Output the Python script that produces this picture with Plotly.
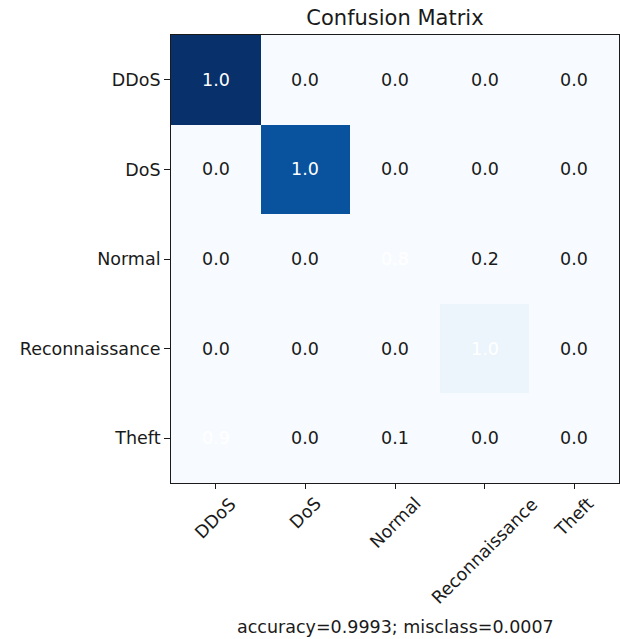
import numpy as np
import plotly.graph_objects as go

# Class labels shared by both axes
classes = ["DDoS", "DoS", "Normal", "Reconnaissance", "Theft"]

# Raw prediction counts per true class (rows) and predicted class (columns)
row_ddos = [49968, 30, 0, 0, 2]
row_dos = [20, 43480, 0, 0, 0]
row_normal = [0, 0, 8, 2, 0]
row_recon = [0, 0, 0, 2500, 3]
row_theft = [9, 0, 1, 0, 0]

cm = np.array([row_ddos, row_dos, row_normal, row_recon, row_theft], dtype=float)
cm_norm = cm / cm.sum(axis=1, keepdims=True)

accuracy = np.trace(cm) / cm.sum()
misclass = 1 - accuracy

blues = [
    [0.0, "#f7fbff"], [0.125, "#deebf7"], [0.25, "#c6dbef"], [0.375, "#9ecae1"],
    [0.5, "#6baed6"], [0.625, "#4292c6"], [0.75, "#2171b5"], [0.875, "#08519c"],
    [1.0, "#08306b"],
]

n = len(classes)
idx = list(range(n))

fig = go.Figure(
    go.Heatmap(
        z=cm, x=idx, y=idx, colorscale=blues, zmin=cm.min(), zmax=cm.max(),
        showscale=False, hoverinfo="skip",
    )
)

font_family = "DejaVu Sans"
fs = 17.5
thresh = cm_norm.max() / 1.5
annotations = []
for i in range(n):
    for j in range(n):
        v = cm_norm[i, j]
        annotations.append(dict(
            x=j, y=i, xref="x", yref="y", text=f"{v:0.1f}", showarrow=False,
            font=dict(family=font_family, size=fs, color="white" if v > thresh else "#1a1a1a"),
        ))

# Rotated column labels, centred under each tick
for j, name in enumerate(classes):
    annotations.append(dict(
        x=j, y=-0.018, xref="x", yref="paper", text=name, showarrow=False,
        textangle=-45, xanchor="center", yanchor="top",
        font=dict(family=font_family, size=fs, color="#1a1a1a"),
    ))

annotations.append(dict(
    x=0.5, y=-0.295, xref="paper", yref="paper", showarrow=False,
    text=f"accuracy={accuracy:0.4f}; misclass={misclass:0.4f}",
    xanchor="center", yanchor="top",
    font=dict(family=font_family, size=fs, color="#1a1a1a"),
))

fig.update_layout(
    width=620, height=639,
    margin=dict(l=171, r=1, t=35, b=156),
    paper_bgcolor="white", plot_bgcolor="white",
    title=dict(text="Confusion Matrix", x=0.637, xanchor="center", y=0.973, yanchor="middle",
               font=dict(family=font_family, size=21, color="#1a1a1a")),
    annotations=annotations,
    font=dict(family=font_family, size=fs, color="#1a1a1a"),
)
fig.update_xaxes(
    range=[-0.5, n - 0.5], tickvals=idx, ticktext=[""] * n,
    ticks="outside", ticklen=5, tickcolor="#1a1a1a",
    showline=True, mirror=True, linecolor="#1a1a1a", linewidth=1,
    showgrid=False, zeroline=False,
)
fig.update_yaxes(
    range=[n - 0.5, -0.5], tickvals=idx, ticktext=classes,
    ticks="outside", ticklen=6, tickcolor="#1a1a1a",
    tickfont=dict(family=font_family, size=fs, color="#1a1a1a"),
    showline=True, mirror=True, linecolor="#1a1a1a", linewidth=1,
    showgrid=False, zeroline=False,
)

fig.write_html("out.html")
